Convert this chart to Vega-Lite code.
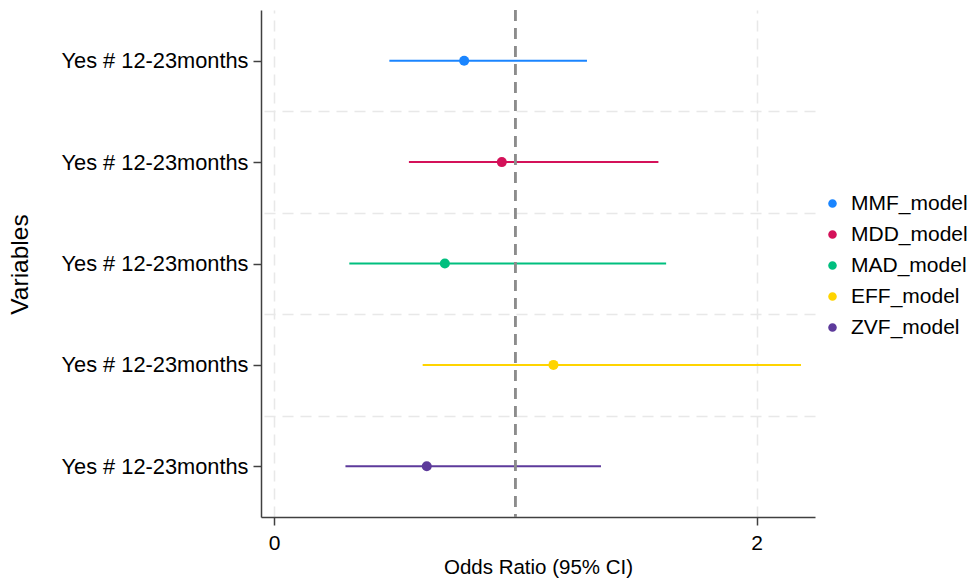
{
  "$schema": "https://vega.github.io/schema/vega-lite/v6.json",
  "width": 554,
  "height": 507,
  "autosize": "none",
  "padding": {"left": 261, "top": 10, "right": 156, "bottom": 67},
  "background": "white",
  "config": {
    "view": {"stroke": null},
    "font": "Liberation Sans",
    "axis": {"labelFont": "Liberation Sans", "titleFont": "Liberation Sans", "titleFontWeight": "normal", "labelColor": "#000000", "titleColor": "#000000"}
  },
  "data": {
    "values": [
      {"row": 1, "model": "MMF_model", "or": 0.788, "lo": 0.478, "hi": 1.297},
      {"row": 2, "model": "MDD_model", "or": 0.944, "lo": 0.559, "hi": 1.593},
      {"row": 3, "model": "MAD_model", "or": 0.708, "lo": 0.312, "hi": 1.625},
      {"row": 4, "model": "EFF_model", "or": 1.158, "lo": 0.616, "hi": 2.184},
      {"row": 5, "model": "ZVF_model", "or": 0.633, "lo": 0.296, "hi": 1.355}
    ]
  },
  "layer": [
    {
      "mark": {"type": "rule", "strokeWidth": 2},
      "encoding": {
        "x": {
          "field": "lo", "type": "quantitative",
          "scale": {"domain": [-0.054, 2.242], "nice": false, "zero": false},
          "axis": {
            "values": [0, 2], "format": "d",
            "title": "Odds Ratio (95% CI)", "titleFontSize": 20.5, "titleY": 56, "titleBaseline": "alphabetic",
            "labelFontSize": 21, "labelPadding": 7,
            "tickSize": 8, "tickColor": "#404040", "tickWidth": 1.5,
            "domainColor": "#404040", "domainWidth": 1.5,
            "grid": true, "gridColor": "#e8e8e8", "gridDash": [11, 7], "gridWidth": 1.5
          }
        },
        "x2": {"field": "hi"},
        "y": {
          "field": "row", "type": "quantitative",
          "scale": {"domain": [0.5, 5.5], "reverse": true, "nice": false, "zero": false},
          "axis": {
            "orient": "left",
            "values": [1, 2, 3, 4, 5],
            "labelExpr": "'Yes # 12-23months'",
            "labelFontSize": 21.8, "labelPadding": 5, "labelLimit": 400,
            "tickSize": 8, "tickColor": "#404040", "tickWidth": 1.5,
            "domainColor": "#404040", "domainWidth": 1.5,
            "grid": false,
            "title": "Variables", "titleFontSize": 24.5, "titleX": -241, "titleY": 254, "titleAngle": -90, "titleBaseline": "middle", "titleAlign": "center"
          }
        },
        "color": {
          "field": "model", "type": "nominal",
          "scale": {
            "domain": ["MMF_model", "MDD_model", "MAD_model", "EFF_model", "ZVF_model"],
            "range": ["#1a85ff", "#d41159", "#00bf7f", "#ffd400", "#5d3a9b"]
          },
          "legend": {
            "title": null, "orient": "none", "legendX": 561, "legendY": 183,
            "symbolType": "circle", "symbolSize": 50, "labelFontSize": 21, "labelFont": "Liberation Sans", "labelColor": "#000000",
            "rowPadding": 9, "labelOffset": 8, "padding": 0, "labelLimit": 200
          }
        }
      }
    },
    {
      "mark": {"type": "point", "filled": true, "size": 100, "opacity": 1},
      "encoding": {
        "x": {"field": "or", "type": "quantitative"},
        "y": {
          "field": "row", "type": "quantitative",
          "axis": {
            "orient": "right",
            "values": [1.5, 2.5, 3.5, 4.5],
            "labels": false, "ticks": false, "domain": false, "title": null,
            "grid": true, "gridColor": "#e8e8e8", "gridDash": [11, 7], "gridWidth": 1.5
          }
        },
        "color": {"field": "model", "type": "nominal"}
      }
    },
    {
      "mark": {"type": "rule", "color": "#8c8c8c", "strokeWidth": 2, "strokeDash": [11, 7]},
      "encoding": {"x": {"datum": 1}}
    }
  ]
}
